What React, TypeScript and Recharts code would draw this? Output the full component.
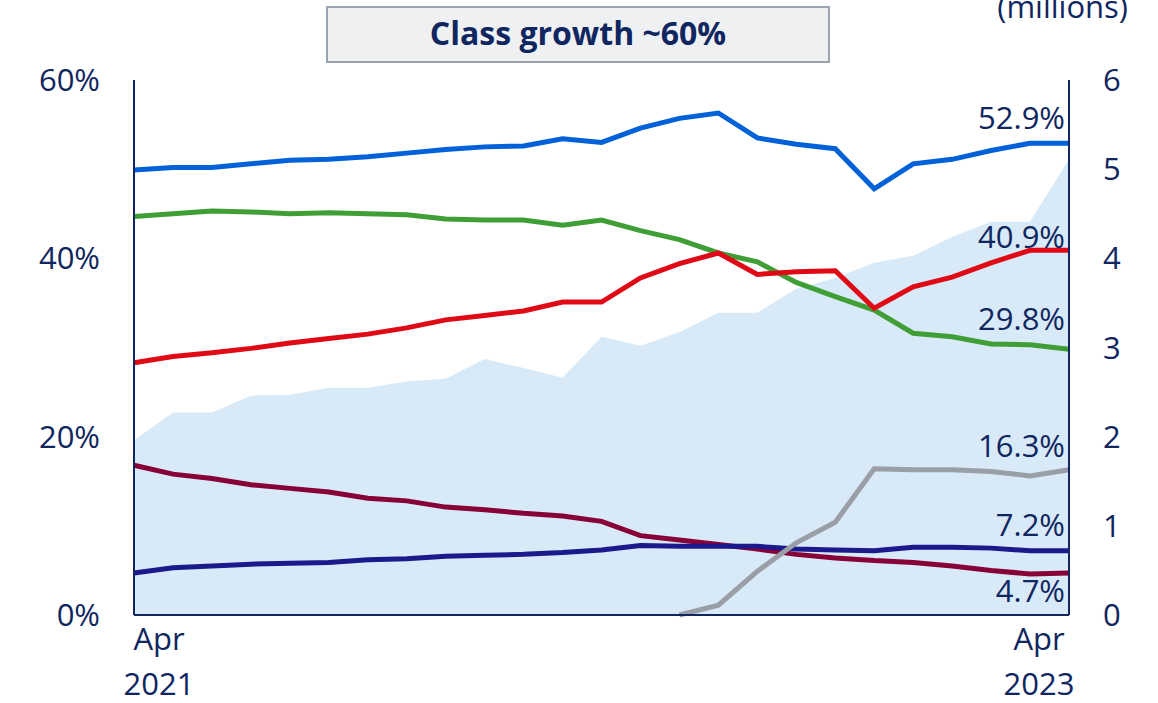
import React from "react"
import { Area, ComposedChart, LabelList, Line, XAxis, YAxis } from "recharts"

const months = [
  "Apr 2021", "May 2021", "Jun 2021", "Jul 2021", "Aug 2021", "Sep 2021", "Oct 2021", "Nov 2021", "Dec 2021",
  "Jan 2022", "Feb 2022", "Mar 2022", "Apr 2022", "May 2022", "Jun 2022", "Jul 2022", "Aug 2022", "Sep 2022",
  "Oct 2022", "Nov 2022", "Dec 2022", "Jan 2023", "Feb 2023", "Mar 2023", "Apr 2023",
]

// share of each group, %
const blueShare = [49.9, 50.2, 50.2, 50.6, 51.0, 51.1, 51.4, 51.8, 52.2, 52.5, 52.6, 53.4, 53.0, 54.6, 55.7, 56.3, 53.5, 52.8, 52.3, 47.8, 50.6, 51.1, 52.1, 52.9, 52.9]
const redShare = [28.3, 29.0, 29.4, 29.9, 30.5, 31.0, 31.5, 32.2, 33.1, 33.6, 34.1, 35.1, 35.1, 37.8, 39.4, 40.6, 38.2, 38.5, 38.6, 34.4, 36.8, 37.9, 39.5, 40.9, 40.9]
const greenShare = [44.7, 45.0, 45.3, 45.2, 45.0, 45.1, 45.0, 44.9, 44.4, 44.3, 44.3, 43.7, 44.3, 43.1, 42.1, 40.6, 39.6, 37.3, 35.7, 34.2, 31.6, 31.2, 30.4, 30.3, 29.8]
const grayShare = [null, null, null, null, null, null, null, null, null, null, null, null, null, null, 0, 1.1, 4.9, 8.1, 10.4, 16.4, 16.3, 16.3, 16.1, 15.6, 16.3]
const navyShare = [4.7, 5.3, 5.5, 5.7, 5.8, 5.9, 6.2, 6.3, 6.6, 6.7, 6.8, 7.0, 7.3, 7.8, 7.7, 7.7, 7.7, 7.4, 7.3, 7.2, 7.6, 7.6, 7.5, 7.2, 7.2]
const maroonShare = [16.8, 15.8, 15.3, 14.6, 14.2, 13.8, 13.1, 12.8, 12.1, 11.8, 11.4, 11.1, 10.5, 8.9, 8.4, 7.9, 7.4, 6.8, 6.4, 6.1, 5.9, 5.5, 5.0, 4.6, 4.7]

// class size, millions (right axis)
const classSize = [1.96, 2.27, 2.27, 2.46, 2.47, 2.55, 2.55, 2.62, 2.65, 2.87, 2.77, 2.66, 3.12, 3.02, 3.17, 3.39, 3.39, 3.66, 3.78, 3.95, 4.03, 4.24, 4.41, 4.41, 5.11]

const leftTicks = [0, 20, 40, 60]
const rightTicks = [0, 1, 2, 3, 4, 5, 6]

const navy = "#0f2660"
const font = "'Open Sans', 'Noto Sans', sans-serif"

const data = months.map((m, i) => ({
  m,
  blue: blueShare[i],
  red: redShare[i],
  green: greenShare[i],
  gray: grayShare[i],
  navyLine: navyShare[i],
  maroon: maroonShare[i],
  size: classSize[i],
}))

const series = [
  { key: "maroon", color: "#870038", dy: 29 },
  { key: "navyLine", color: "#1a1a8c", dy: -15 },
  { key: "gray", color: "#9a9ea6", dy: -13 },
  { key: "green", color: "#3f9e35", dy: -19 },
  { key: "red", color: "#e00a17", dy: -2 },
  { key: "blue", color: "#0061d8", dy: -14 },
]

function endLabel(dy: number) {
  return (props: any) => {
    const { x, y, index, value } = props
    if (index !== months.length - 1 || value == null) return null
    return (
      <text x={x - 4} y={y + dy} textAnchor="end" fill={navy} fontSize={31} fontFamily={font}>
        {Number(value).toFixed(1)}%
      </text>
    )
  }
}

function MonthTick(props: any) {
  const { x, y, payload, index } = props
  const last = months.length - 1
  if (index !== 0 && index !== last) return null
  const [mon, yr] = String(payload.value).split(" ")
  const cx = index === 0 ? x + 25 : x - 30
  return (
    <g>
      <text x={cx} y={y + 27} textAnchor="middle" fill={navy} fontSize={31} fontFamily={font}>{mon}</text>
      <text x={cx} y={y + 72} textAnchor="middle" fill={navy} fontSize={31} fontFamily={font}>{yr}</text>
    </g>
  )
}

export default function App() {
  return (
    <div style={{ position: "absolute", left: 0, top: 0, width: 1158, height: 703, background: "#fff" }}>
      <ComposedChart width={1158} height={703} data={data} margin={{ top: 80, right: 29, bottom: 8, left: 34 }}>
        <XAxis
          dataKey="m"
          interval={0}
          tick={<MonthTick />}
          tickLine={false}
          height={80}
          axisLine={{ stroke: navy, strokeWidth: 2 }}
        />
        <YAxis
          yAxisId="left"
          domain={[0, 60]}
          ticks={leftTicks}
          tickFormatter={(v) => `${v}%`}
          width={100}
          tickLine={false}
          tickSize={0}
          tickMargin={34}
          axisLine={{ stroke: navy, strokeWidth: 2 }}
          tick={{ fill: navy, fontSize: 31, fontFamily: font }}
        />
        <YAxis
          yAxisId="right"
          orientation="right"
          domain={[0, 6]}
          ticks={rightTicks}
          width={60}
          tickLine={false}
          tickSize={0}
          tickMargin={34}
          axisLine={{ stroke: navy, strokeWidth: 2 }}
          tick={{ fill: navy, fontSize: 31, fontFamily: font, textAnchor: "start" }}
        />
        <Area
          yAxisId="right"
          type="linear"
          dataKey="size"
          fill="#d8e9f7"
          fillOpacity={1}
          stroke="none"
          isAnimationActive={false}
        />
        {series.map((s) => (
          <Line
            key={s.key}
            yAxisId="left"
            type="linear"
            dataKey={s.key}
            stroke={s.color}
            strokeWidth={5}
            dot={false}
            connectNulls={false}
            isAnimationActive={false}
          >
            <LabelList dataKey={s.key} content={endLabel(s.dy)} />
          </Line>
        ))}
      </ComposedChart>
      <svg width={1158} height={703} style={{ position: "absolute", left: 0, top: 0, pointerEvents: "none" }}>
        <rect x={327} y={7} width={502} height={55} fill="#eff0f2" stroke="#9ba3ae" strokeWidth={2} />
        <text x={578} y={45} textAnchor="middle" fill={navy} fontSize={32} fontWeight={700} fontFamily={font}>
          Class growth ~60%
        </text>
        <text x={1128} y={18} textAnchor="end" fill={navy} fontSize={31} fontFamily={font}>
          (millions)
        </text>
      </svg>
    </div>
  )
}
